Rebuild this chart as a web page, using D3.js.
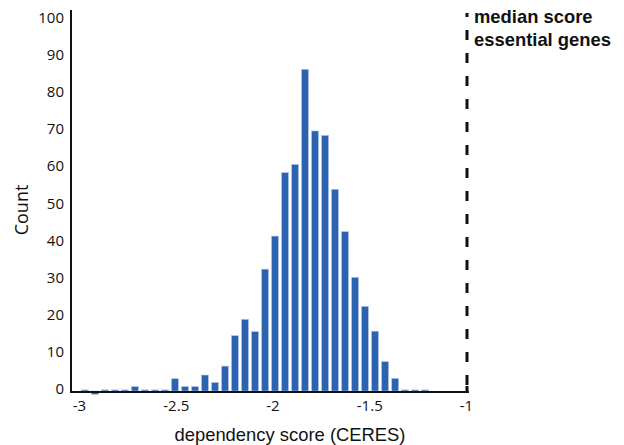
<!DOCTYPE html>
<html>
<head>
<meta charset="utf-8">
<script src="https://cdn.jsdelivr.net/npm/d3@7"></script>
<style>
  html, body { margin: 0; padding: 0; background: #fff; }
  svg { display: block; }
</style>
</head>
<body>
<svg id="chart" width="624" height="445"></svg>
<script>
// ---- data ----
const binCenters = [-2.964, -2.912, -2.861, -2.809, -2.757, -2.706, -2.654, -2.602, -2.550, -2.499,
                    -2.447, -2.395, -2.344, -2.292, -2.240, -2.189, -2.137, -2.085, -2.033, -1.982,
                    -1.930, -1.878, -1.827, -1.775, -1.723, -1.672, -1.620, -1.568, -1.517, -1.465,
                    -1.413, -1.361, -1.310, -1.258, -1.206];
const counts = [0.3, -0.5, 0.3, 0.3, 0.3, 1.2, 0.3, 0.3, 0.3, 3.3,
                1.2, 1.2, 4.3, 2.3, 6.7, 14.9, 19.3, 16, 32.8, 41.7,
                58.8, 61, 86.6, 70, 68.8, 54.3, 42.9, 30.6, 22.8, 16.1,
                7.9, 3.4, 0.3, 0.3, 0.3];
const xTicks = [-3, -2.5, -2, -1.5, -1];
const xTickLabels = ["-3", "-2.5", "-2", "-1.5", "-1"];
const yTicks = [0, 10, 20, 30, 40, 50, 60, 70, 80, 90, 100];
const medianEssential = -1;
const legendLines = ["median score", "essential genes"];
const xTitle = "dependency score (CERES)";
const yTitle = "Count";

// ---- drawing ----
const svg = d3.select("#chart");
const x = d3.scaleLinear().domain([-3, -1]).range([78, 465]);
const y = d3.scaleLinear().domain([0, 100]).range([391, 19.5]);
const barPx = 7;

svg.append("g").selectAll("rect")
  .data(binCenters.map((c, i) => ({c, v: counts[i]})))
  .join("rect")
  .attr("x", d => x(d.c) - barPx / 2)
  .attr("width", barPx)
  .attr("y", d => d.v >= 0 ? y(d.v) : y(0))
  .attr("height", d => Math.abs(y(d.v) - y(0)) + (d.v < 0 ? 1.5 : 0))
  .attr("fill", "#2c63b0")
  .attr("stroke", "#b5c8e8")
  .attr("stroke-width", 0.6);

// dashed median line
svg.append("line")
  .attr("x1", x(medianEssential) + 2).attr("x2", x(medianEssential) + 2)
  .attr("y1", 13).attr("y2", 392)
  .attr("stroke", "#111").attr("stroke-width", 3)
  .attr("stroke-dasharray", "10,13")
  .attr("stroke-dashoffset", 6);

// axes lines
svg.append("line").attr("x1", 71).attr("x2", 71).attr("y1", 10).attr("y2", 393)
  .attr("stroke", "#111").attr("stroke-width", 2);
svg.append("line").attr("x1", 70).attr("x2", 469).attr("y1", 392).attr("y2", 392)
  .attr("stroke", "#111").attr("stroke-width", 2);
svg.append("line").attr("x1", x(medianEssential) + 2).attr("x2", x(medianEssential) + 2)
  .attr("y1", 386).attr("y2", 393).attr("stroke", "#111").attr("stroke-width", 3);

// y tick labels
const yAxis = d3.axisLeft(y).tickValues(yTicks).tickSize(0).tickPadding(7);
const gy = svg.append("g").attr("transform", "translate(71,-2)").call(yAxis);
gy.select(".domain").remove();
gy.selectAll("text").attr("font-family", "Open Sans, sans-serif").attr("font-size", 15).attr("fill", "#111");

// x tick labels
const xAxis = d3.axisBottom(x).tickValues(xTicks).tickSize(0).tickPadding(9)
  .tickFormat((d, i) => xTickLabels[i]);
const gx = svg.append("g").attr("transform", "translate(1,391)").call(xAxis);
gx.select(".domain").remove();
gx.selectAll("text").attr("font-family", "Open Sans, sans-serif").attr("font-size", 15).attr("fill", "#111");

// titles
svg.append("text").attr("x", 290).attr("y", 441).attr("text-anchor", "middle")
  .attr("font-family", "Liberation Sans, Arial, sans-serif").attr("font-size", 18.4).attr("fill", "#111")
  .text(xTitle);
svg.append("text").attr("transform", "translate(28,210) rotate(-90)").attr("text-anchor", "middle")
  .attr("font-family", "Open Sans, sans-serif").attr("font-size", 18).attr("fill", "#111")
  .text(yTitle);

// legend text
svg.append("g").selectAll("text").data(legendLines).join("text")
  .attr("x", 474).attr("y", (d, i) => 23 + i * 23)
  .attr("font-family", "Liberation Sans, Arial, sans-serif").attr("font-weight", "bold")
  .attr("font-size", 18.4).attr("fill", "#111")
  .text(d => d);
</script>
</body>
</html>
